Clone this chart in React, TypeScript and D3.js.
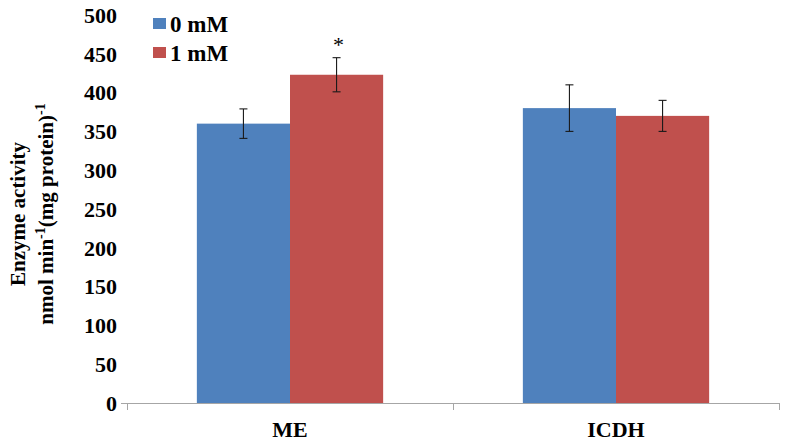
import React from "react";
import * as d3 from "d3";

const categories = ["ME", "ICDH"];
const seriesNames = ["0 mM", "1 mM"];
const values0 = [360, 380];
const values1 = [423, 370];
const errors0 = [19, 30];
const errors1 = [22, 20];
const significance = ["*", ""];
const yTicks = [0, 50, 100, 150, 200, 250, 300, 350, 400, 450, 500];
const colors = ["#4F81BD", "#C0504D"];

export default function App() {
  const W = 785, H = 443;
  const left = 127, right = 779, top = 15, bottom = 403;
  const font = "'Liberation Serif', 'Times New Roman', serif";
  const y = d3.scaleLinear().domain([0, 500]).range([bottom, top]);
  const x = d3.scaleBand().domain(categories).range([left, right]).paddingInner(0).paddingOuter(0);
  const inner = d3.scaleBand().domain(seriesNames).range([0, x.bandwidth()]).paddingInner(0).paddingOuter(0.75);
  const series = [
    { name: seriesNames[0], vals: values0, errs: errors0, color: colors[0] },
    { name: seriesNames[1], vals: values1, errs: errors1, color: colors[1] },
  ];
  const axisColor = "#a6a6a6";
  return (
    <svg width={W} height={H} style={{ position: "absolute", left: 0, top: 0, background: "#fff" }} fontFamily={font}>
      <rect x={0} y={0} width={W} height={H} fill="#fff" />
      {/* bars */}
      {series.map((s, si) =>
        categories.map((c, ci) => {
          const bx = (x(c) as number) + (inner(s.name) as number);
          const bw = inner.bandwidth();
          return (
            <rect key={`${si}-${ci}`} x={bx} y={y(s.vals[ci])} width={bw} height={bottom - y(s.vals[ci])} fill={s.color} />
          );
        })
      )}
      {/* error bars */}
      {series.map((s, si) =>
        categories.map((c, ci) => {
          const cx = (x(c) as number) + (inner(s.name) as number) + inner.bandwidth() / 2;
          const hi = y(s.vals[ci] + s.errs[ci]);
          const lo = y(s.vals[ci] - s.errs[ci]);
          return (
            <g key={`e${si}-${ci}`} stroke="#1a1a1a" strokeWidth={1.1}>
              <line x1={cx} x2={cx} y1={hi} y2={lo} />
              <line x1={cx - 4} x2={cx + 4} y1={hi} y2={hi} />
              <line x1={cx - 4} x2={cx + 4} y1={lo} y2={lo} />
            </g>
          );
        })
      )}
      {/* significance */}
      {categories.map((c, ci) =>
        significance[ci] ? (
          <text key={`s${ci}`} x={(x(c) as number) + (inner(seriesNames[1]) as number) + inner.bandwidth() / 2 + 2}
            y={y(values1[ci] + errors1[ci]) - 6} textAnchor="middle" fontSize={22}>
            {significance[ci]}
          </text>
        ) : null
      )}
      {/* x axis */}
      <line x1={121} x2={right} y1={bottom + 0.5} y2={bottom + 0.5} stroke={axisColor} strokeWidth={1} />
      {[...categories.map((c) => x(c) as number), right].map((tx, i) => (
        <line key={`t${i}`} x1={tx + 0.5} x2={tx + 0.5} y1={bottom} y2={bottom + 7} stroke={axisColor} strokeWidth={1} />
      ))}
      {categories.map((c) => (
        <text key={c} x={(x(c) as number) + x.bandwidth() / 2} y={437} textAnchor="middle" fontSize={22} fontWeight="bold">
          {c}
        </text>
      ))}
      {/* y tick labels */}
      {yTicks.map((t) => (
        <text key={t} x={117} y={y(t)} dy="0.35em" textAnchor="end" fontSize={22} fontWeight="bold">
          {t}
        </text>
      ))}
      {/* y title */}
      <g transform={`translate(25, 214) rotate(-90)`}>
        <text x={0} y={0} textAnchor="middle" fontSize={21} fontWeight="bold">Enzyme activity</text>
        <text x={0} y={28} textAnchor="middle" fontSize={21} fontWeight="bold">
          nmol min<tspan dy={-8} fontSize={14}>-1</tspan><tspan dy={8}>(mg protein)</tspan><tspan dy={-8} fontSize={14}>-1</tspan>
        </text>
      </g>
      {/* legend */}
      {series.map((s, i) => (
        <g key={`l${i}`} transform={`translate(153, ${18 + i * 29})`}>
          <rect x={0} y={0} width={13} height={11} fill={s.color} />
          <text x={17} y={6} dy="0.35em" fontSize={23} fontWeight="bold">{s.name}</text>
        </g>
      ))}
    </svg>
  );
}
